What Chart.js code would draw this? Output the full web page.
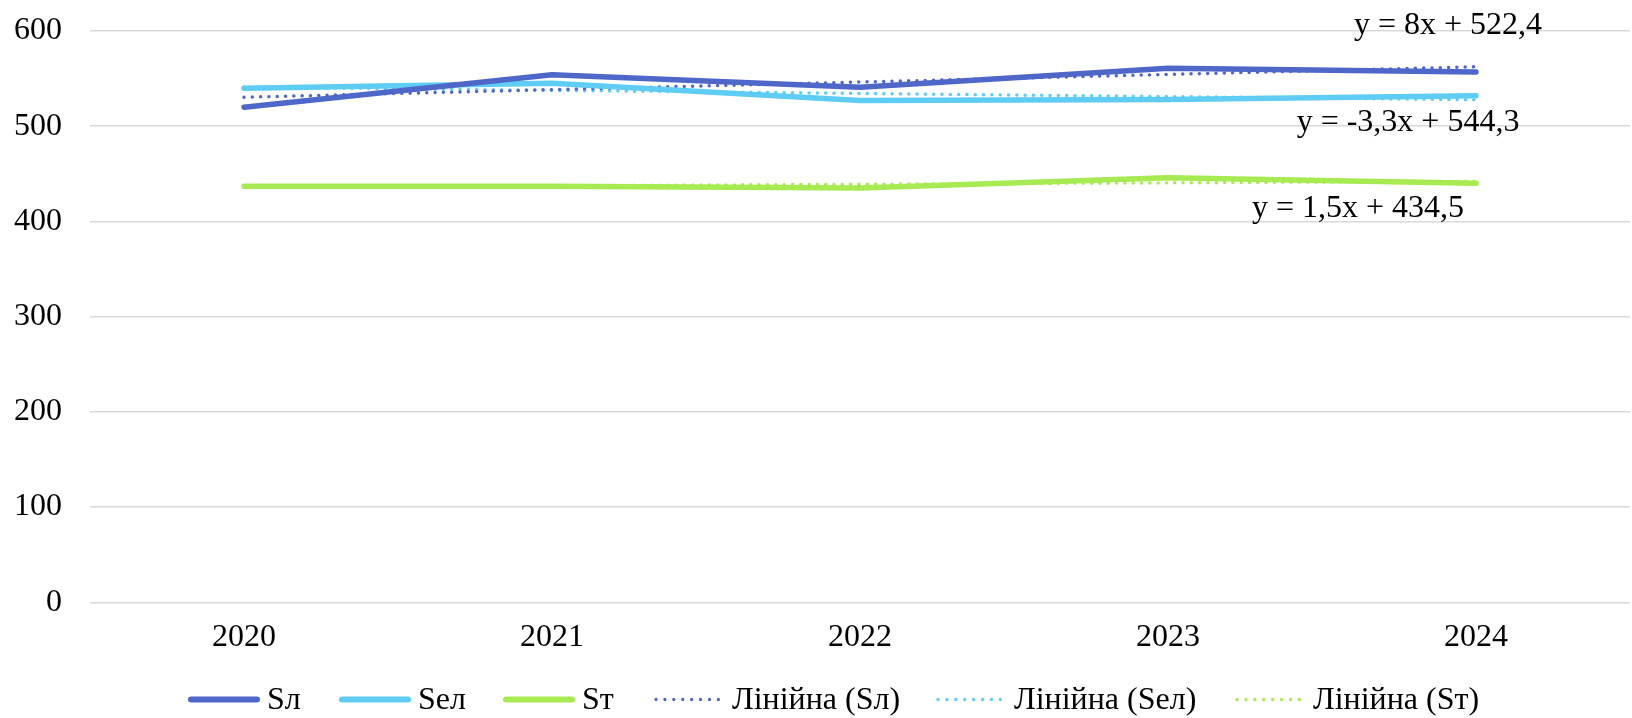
<!DOCTYPE html>
<html lang="uk">
<head>
<meta charset="utf-8">
<script src="https://cdn.jsdelivr.net/npm/chart.js@4.4.1/dist/chart.umd.min.js"></script>
<style>
  html, body { margin: 0; padding: 0; background: #ffffff; overflow: hidden; }
  #wrap { width: 1632px; height: 718px; }
</style>
</head>
<body>
<div id="wrap"><canvas id="chart"></canvas></div>
<script>
// Categories and series
const years = ['2020', '2021', '2022', '2023', '2024'];
const sL   = [520, 554, 541, 561, 557];
const sEl  = [540, 545, 527, 528, 532];
const sT   = [437, 437, 435, 446, 440];

// Linear trend coefficients (x = 1..5) and their printed equations
const trendSlope     = [8, -3.3, 1.5];
const trendIntercept = [522.4, 544.3, 434.5];
const trendLabels    = ['y = 8x + 522,4', 'y = -3,3x + 544,3', 'y = 1,5x + 434,5'];

// Axis ticks
const yMin = 0, yMax = 600, yStep = 100;

// Legend texts
const seriesNames = ['Sл', 'Sел', 'Sт'];
const trendNames  = ['Лінійна (Sл)', 'Лінійна (Sел)', 'Лінійна (Sт)'];

const colors = ['#4E67C8', '#5ECCF3', '#A7EA52'];
const FONT = '"Liberation Serif", "Times New Roman", serif';

function trendPoints(i) {
  return years.map((_, k) => trendSlope[i] * (k + 1) + trendIntercept[i]);
}

const seriesData = [sL, sEl, sT];
const datasets = [];
seriesData.forEach((d, i) => {
  datasets.push({
    label: seriesNames[i], data: d, borderColor: colors[i], backgroundColor: colors[i],
    borderWidth: 5.5, pointRadius: 0, tension: 0,
    borderCapStyle: 'round', borderJoinStyle: 'round'
  });
});
seriesData.forEach((d, i) => {
  datasets.push({
    label: trendNames[i], data: trendPoints(i), borderColor: colors[i], backgroundColor: colors[i],
    borderWidth: 3.5, pointRadius: 0, tension: 0,
    borderDash: [0.01, 8.3], borderCapStyle: 'round', isTrend: true
  });
});

// Equation label placement relative to the trend end point
const eqOffsetX = [-28, -68, -118];
const eqOffsetY = [-33, 31, 36];

const equationLabels = {
  id: 'equationLabels',
  afterDatasetsDraw(chart) {
    const { ctx, scales: { x, y } } = chart;
    ctx.save();
    ctx.font = '32px ' + FONT;
    ctx.fillStyle = '#000000';
    ctx.textAlign = 'center';
    ctx.textBaseline = 'alphabetic';
    trendLabels.forEach((t, i) => {
      const last = years.length - 1;
      const v = trendSlope[i] * (last + 1) + trendIntercept[i];
      ctx.fillText(t, x.getPixelForValue(last) + eqOffsetX[i], y.getPixelForValue(v) + eqOffsetY[i]);
    });
    ctx.restore();
  }
};

// Legend row drawn under the axis
const legendItemX = [188, 339, 503, 653, 935, 1234];
const legendRow = {
  id: 'legendRow',
  afterDraw(chart) {
    const { ctx } = chart;
    const sampleW = 72, gapText = 7, lineY = 699.5, textY = 709;
    ctx.save();
    ctx.font = '32px ' + FONT;
    ctx.textBaseline = 'alphabetic';
    ctx.textAlign = 'left';
    chart.data.datasets.forEach((ds, i) => {
      const xPos = legendItemX[i];
      ctx.beginPath();
      ctx.strokeStyle = ds.borderColor;
      ctx.lineWidth = ds.isTrend ? 3.3 : 6;
      ctx.lineCap = 'round';
      ctx.setLineDash(ds.isTrend ? [0.01, 8.9] : []);
      ctx.moveTo(xPos + 3, lineY);
      ctx.lineTo(xPos + sampleW - 3, lineY);
      ctx.stroke();
      ctx.setLineDash([]);
      ctx.fillStyle = '#000000';
      ctx.fillText(ds.label, xPos + sampleW + gapText, textY);
    });
    ctx.restore();
  }
};

new Chart(document.getElementById('chart'), {
  type: 'line',
  data: { labels: years, datasets },
  options: {
    responsive: true,
    maintainAspectRatio: false,
    animation: false,
    layout: { padding: { top: 31, right: 2, bottom: 60, left: 0 } },
    plugins: { legend: { display: false }, tooltip: { enabled: false } },
    scales: {
      x: {
        offset: true,
        grid: { display: false, drawTicks: false },
        border: { display: false },
        ticks: { color: '#000000', font: { family: FONT, size: 32 }, padding: 16, maxRotation: 0 },
        afterFit(scale) { scale.height = 55.7; }
      },
      y: {
        min: yMin, max: yMax,
        grid: { color: '#D9D9D9', lineWidth: 1.5, drawTicks: false },
        border: { display: false },
        ticks: { stepSize: yStep, color: '#000000', font: { family: FONT, size: 32 }, padding: 28 },
        afterFit(scale) {
          scale.width = 90;
          scale.paddingTop = 0;
          scale.paddingBottom = 0;
        }
      }
    }
  },
  plugins: [equationLabels, legendRow]
});
</script>
</body>
</html>
